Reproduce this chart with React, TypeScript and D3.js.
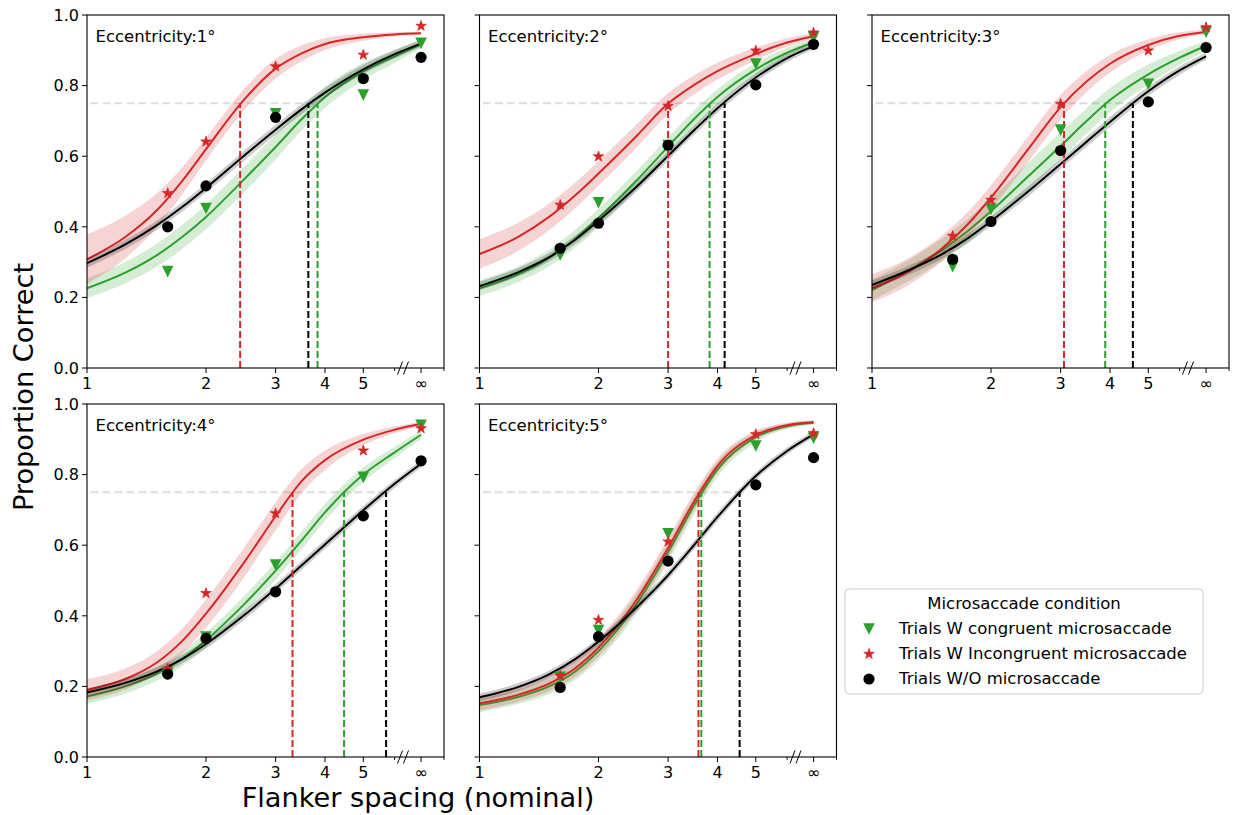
import * as d3 from 'd3'

const eccentricities = [1, 2, 3, 4, 5]
const pointSpacing = [1.6, 2, 3, 5, 7]
const fitSpacing = [1, 1.25, 1.5, 1.75, 2, 2.5, 3, 3.5, 4, 5, 6, 7]
const xMajorTicks = [1, 2, 3, 4, 5, 7]
const xMajorLabels = ['1', '2', '3', '4', '5', '∞']
const xMinorTicks = [6, 8]
const yTicks = [0, 0.2, 0.4, 0.6, 0.8, 1.0]
const breakAt = 6.3
const criterion = 0.75

// observed proportion correct (rows = eccentricity 1..5)
const congruentObs = [
  [0.273, 0.452, 0.72, 0.773, 0.92],
  [0.32, 0.468, 0.63, 0.861, 0.937],
  [0.287, 0.45, 0.674, 0.804, 0.951],
  [0.235, 0.34, 0.544, 0.792, 0.94],
  [0.226, 0.358, 0.632, 0.881, 0.903],
]
const incongruentObs = [
  [0.495, 0.641, 0.854, 0.887, 0.969],
  [0.462, 0.599, 0.742, 0.899, 0.95],
  [0.374, 0.476, 0.748, 0.899, 0.965],
  [0.25, 0.464, 0.69, 0.868, 0.931],
  [0.23, 0.388, 0.61, 0.914, 0.917],
]
const noSaccadeObs = [
  [0.4, 0.516, 0.71, 0.82, 0.88],
  [0.339, 0.41, 0.631, 0.802, 0.917],
  [0.308, 0.415, 0.616, 0.754, 0.908],
  [0.235, 0.336, 0.468, 0.683, 0.839],
  [0.197, 0.341, 0.555, 0.771, 0.848],
]

// fitted psychometric curves, read at fitSpacing
const congruentFit = [
  [0.226, 0.27, 0.319, 0.373, 0.428, 0.535, 0.626, 0.706, 0.767, 0.84, 0.883, 0.917],
  [0.226, 0.265, 0.312, 0.367, 0.425, 0.532, 0.627, 0.707, 0.768, 0.846, 0.893, 0.923],
  [0.221, 0.279, 0.334, 0.389, 0.444, 0.546, 0.629, 0.701, 0.759, 0.832, 0.879, 0.913],
  [0.171, 0.2, 0.236, 0.28, 0.331, 0.433, 0.528, 0.615, 0.693, 0.8, 0.863, 0.913],
  [0.147, 0.17, 0.2, 0.243, 0.3, 0.435, 0.58, 0.715, 0.815, 0.906, 0.937, 0.947],
]
const incongruentFit = [
  [0.308, 0.371, 0.446, 0.533, 0.62, 0.761, 0.848, 0.892, 0.918, 0.937, 0.945, 0.948],
  [0.323, 0.371, 0.428, 0.49, 0.551, 0.658, 0.749, 0.803, 0.841, 0.89, 0.922, 0.94],
  [0.226, 0.276, 0.338, 0.408, 0.483, 0.624, 0.739, 0.813, 0.862, 0.915, 0.941, 0.952],
  [0.19, 0.221, 0.267, 0.331, 0.406, 0.552, 0.682, 0.783, 0.841, 0.899, 0.927, 0.944],
  [0.152, 0.176, 0.208, 0.252, 0.31, 0.446, 0.592, 0.726, 0.825, 0.912, 0.94, 0.948],
]
const noSaccadeFit = [
  [0.297, 0.35, 0.404, 0.458, 0.51, 0.602, 0.675, 0.734, 0.78, 0.846, 0.889, 0.919],
  [0.232, 0.271, 0.314, 0.364, 0.417, 0.514, 0.601, 0.675, 0.736, 0.823, 0.878, 0.912],
  [0.235, 0.279, 0.322, 0.368, 0.416, 0.503, 0.578, 0.642, 0.697, 0.784, 0.843, 0.883],
  [0.183, 0.21, 0.242, 0.279, 0.32, 0.402, 0.477, 0.544, 0.602, 0.699, 0.774, 0.831],
  [0.169, 0.198, 0.234, 0.278, 0.327, 0.424, 0.515, 0.602, 0.68, 0.796, 0.867, 0.914],
]

// confidence band half-widths at fitSpacing
const congruentBand = [
  [0.028, 0.03, 0.032, 0.034, 0.035, 0.036, 0.035, 0.032, 0.03, 0.024, 0.018, 0.012],
  [0.022, 0.022, 0.024, 0.025, 0.026, 0.027, 0.026, 0.024, 0.022, 0.018, 0.014, 0.01],
  [0.03, 0.03, 0.032, 0.034, 0.036, 0.038, 0.038, 0.036, 0.034, 0.028, 0.02, 0.014],
  [0.02, 0.02, 0.02, 0.021, 0.022, 0.024, 0.025, 0.025, 0.024, 0.02, 0.016, 0.012],
  [0.02, 0.02, 0.022, 0.024, 0.026, 0.028, 0.028, 0.026, 0.022, 0.014, 0.008, 0.006],
]
const incongruentBand = [
  [0.07, 0.06, 0.048, 0.038, 0.032, 0.03, 0.028, 0.022, 0.017, 0.01, 0.006, 0.004],
  [0.042, 0.04, 0.038, 0.036, 0.035, 0.033, 0.03, 0.027, 0.024, 0.018, 0.012, 0.008],
  [0.04, 0.038, 0.036, 0.035, 0.035, 0.036, 0.035, 0.03, 0.025, 0.016, 0.01, 0.006],
  [0.03, 0.03, 0.032, 0.035, 0.04, 0.042, 0.04, 0.034, 0.027, 0.016, 0.01, 0.006],
  [0.02, 0.02, 0.022, 0.024, 0.026, 0.028, 0.028, 0.025, 0.02, 0.012, 0.007, 0.005],
]
const noSaccadeBand = [
  [0.013, 0.013, 0.013, 0.013, 0.013, 0.014, 0.014, 0.014, 0.014, 0.013, 0.012, 0.01],
  [0.012, 0.012, 0.012, 0.012, 0.012, 0.013, 0.013, 0.013, 0.013, 0.012, 0.011, 0.01],
  [0.013, 0.013, 0.013, 0.013, 0.013, 0.014, 0.014, 0.014, 0.014, 0.013, 0.012, 0.01],
  [0.012, 0.012, 0.012, 0.012, 0.012, 0.013, 0.013, 0.013, 0.013, 0.012, 0.011, 0.01],
  [0.011, 0.011, 0.011, 0.011, 0.011, 0.012, 0.012, 0.012, 0.012, 0.011, 0.01, 0.009],
]

// spacing giving 75% correct
const congruentThreshold = [3.83, 3.82, 3.89, 4.47, 3.64]
const incongruentThreshold = [2.44, 3.0, 3.06, 3.31, 3.58]
const noSaccadeThreshold = [3.63, 4.17, 4.57, 5.71, 4.55]

const conditions = [
  { label: 'Trials W congruent microsaccade', color: '#2ca02c', marker: 'v', obs: congruentObs, fit: congruentFit, band: congruentBand, thr: congruentThreshold },
  { label: 'Trials W Incongruent microsaccade', color: '#d62728', marker: '*', obs: incongruentObs, fit: incongruentFit, band: incongruentBand, thr: incongruentThreshold },
  { label: 'Trials W/O microsaccade', color: '#000000', marker: 'o', obs: noSaccadeObs, fit: noSaccadeFit, band: noSaccadeBand, thr: noSaccadeThreshold },
]

const W = 1235
const H = 815
const panelW = 357
const panelH = 353
const left0 = 87
const top0 = 15
const stepX = 392.5
const stepY = 389
const font = 'DejaVu Sans, sans-serif'

const x = d3.scaleLog().domain([1, 8]).range([0, panelW])
const y = d3.scaleLinear().domain([0, 1]).range([panelH, 0])

const starPath = d3.symbol(d3.symbolStar, 34)()
const Marker = ({ type, color, cx, cy }: { type: string; color: string; cx: number; cy: number }) => {
  if (type === 'o') return <circle cx={cx} cy={cy} r={5.6} fill={color} />
  if (type === 'v') {
    const r = 5.8
    return <path d={`M${cx - r},${cy - r}L${cx + r},${cy - r}L${cx},${cy + r}Z`} fill={color} />
  }
  return <path d={starPath || ''} transform={`translate(${cx},${cy})`} fill={color} stroke={color} strokeWidth={0.8} />
}

const Panel = ({ idx }: { idx: number }) => {
  const col = idx % 3
  const row = Math.floor(idx / 3)
  const tx = left0 + col * stepX
  const ty = top0 + row * stepY

  const line = d3.line<number>()
    .x((_, i) => x(fitSpacing[i]))
    .y(p => y(p))
    .curve(d3.curveMonotoneX)

  const maxThr = d3.max(conditions, c => c.thr[idx]) || 1

  return (
    <g transform={`translate(${tx},${ty})`}>
      <line x1={x(1.02)} x2={x(maxThr)} y1={y(criterion)} y2={y(criterion)}
        stroke="#dddddd" strokeWidth={2} strokeDasharray="8,4" />
      {conditions.map(c => {
        const fit = c.fit[idx]
        const band = c.band[idx]
        const area = d3.area<number>()
          .x((_, i) => x(fitSpacing[i]))
          .y0((p, i) => y(p - band[i]))
          .y1((p, i) => y(p + band[i]))
          .curve(d3.curveMonotoneX)
        return (
          <g key={c.label}>
            <path d={area(fit) || ''} fill={c.color} fillOpacity={0.2} />
            <path d={line(fit) || ''} fill="none" stroke={c.color} strokeWidth={2} />
          </g>
        )
      })}
      {conditions.map(c => (
        <line key={c.label} x1={x(c.thr[idx])} x2={x(c.thr[idx])} y1={y(0)} y2={y(criterion)}
          stroke={c.color} strokeWidth={2} strokeDasharray="7,3" />
      ))}
      {conditions.map(c => (
        <g key={c.label}>
          {c.obs[idx].map((p, i) => (
            <Marker key={i} type={c.marker} color={c.color} cx={x(pointSpacing[i])} cy={y(p)} />
          ))}
        </g>
      ))}
      <text x={8.5} y={27} fontFamily={font} fontSize={16.5}>{`Eccentricity:${eccentricities[idx]}°`}</text>
      <rect x={0} y={0} width={panelW} height={panelH} fill="none" stroke="#000" strokeWidth={1.1} />
      {xMajorTicks.map((t, i) => (
        <g key={t} transform={`translate(${x(t)},${panelH})`}>
          <line y1={0} y2={5} stroke="#000" strokeWidth={1} />
          <text y={21} textAnchor="middle" fontFamily={font} fontSize={16}>{xMajorLabels[i]}</text>
        </g>
      ))}
      {xMinorTicks.map(t => (
        <line key={t} x1={x(t)} x2={x(t)} y1={panelH} y2={panelH + 3} stroke="#000" strokeWidth={0.9} />
      ))}
      {[-3, 3].map(o => (
        <line key={o} x1={x(breakAt) + o - 2.5} x2={x(breakAt) + o + 2.5} y1={panelH + 6.5} y2={panelH - 6.5}
          stroke="#000" strokeWidth={1} />
      ))}
      {yTicks.map(t => (
        <g key={t} transform={`translate(0,${y(t)})`}>
          <line x1={-5} x2={0} stroke="#000" strokeWidth={1} />
          {col === 0 && (
            <text x={-8} dy="0.36em" textAnchor="end" fontFamily={font} fontSize={16}>{d3.format('.1f')(t)}</text>
          )}
        </g>
      ))}
    </g>
  )
}

const Legend = () => {
  const lx = 845
  const ly = 589
  return (
    <g>
      <rect x={lx} y={ly} width={358} height={105} rx={4} fill="#fff" fillOpacity={0.8} stroke="#cccccc" strokeWidth={1} />
      <text x={lx + 179} y={ly + 20} textAnchor="middle" fontFamily={font} fontSize={16.5}>Microsaccade condition</text>
      {conditions.map((c, i) => (
        <g key={c.label}>
          <Marker type={c.marker} color={c.color} cx={lx + 24} cy={ly + 40 + i * 25} />
          <text x={lx + 54} y={ly + 45 + i * 25} fontFamily={font} fontSize={16.5}>{c.label}</text>
        </g>
      ))}
    </g>
  )
}

export default function App() {
  return (
    <svg width={W} height={H} style={{ position: 'absolute', left: 0, top: 0, background: '#fff' }}>
      <rect width={W} height={H} fill="#fff" />
      {eccentricities.map((_, i) => <Panel key={i} idx={i} />)}
      <Legend />
      <text transform="translate(33,387) rotate(-90)" textAnchor="middle" fontFamily={font} fontSize={27.2}>Proportion Correct</text>
      <text x={418} y={807} textAnchor="middle" fontFamily={font} fontSize={27.2}>Flanker spacing (nominal)</text>
    </svg>
  )
}
